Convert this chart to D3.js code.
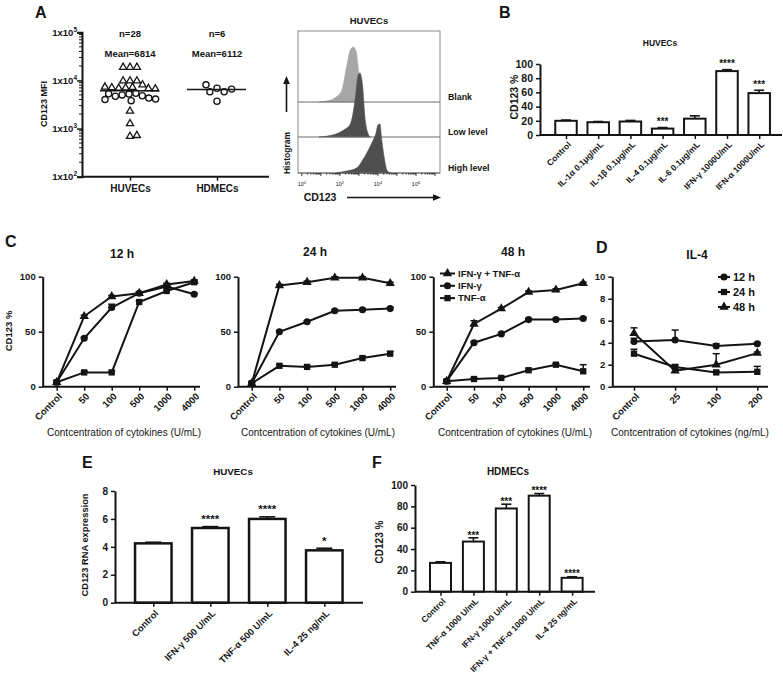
<!DOCTYPE html>
<html><head><meta charset="utf-8">
<script src="https://cdn.jsdelivr.net/npm/d3@7"></script>
<style>body{margin:0;background:#fff}svg{display:block}</style>
</head><body>
<svg id="c" width="783" height="683"></svg>
<script>
// ================= DATA =================
// Panel A scatter
const aGroups = ["HUVECs", "HDMECs"];
const aTicks = [100, 1000, 10000, 100000];
const aTickExp = ["2", "3", "4", "5"];
const huvecTri = [18800, 18800, 18800, 9800, 9800, 9800, 8100, 7200, 7000, 6900, 7100, 6800, 7300, 6700, 2300, 1270, 690, 720];
const huvecCirc = [5400, 5200, 5000, 4800, 4700, 5300, 4300, 4000, 3800, 4100];
const hdmecCirc = [6900, 5800, 5800, 6600, 8100, 3700];
const aCenterLine = [6100, 6500];
const aN = ["n=28", "n=6"];
const aMean = ["Mean=6814", "Mean=6112"];

// Panel A histogram (log10 intensity, relative counts)
const histRows = ["Blank", "Low level", "High level"];
const histTickExp = [0, 2, 4, 6];
const blankLog = [0.9, 1.5, 1.8, 2.1, 2.35, 2.55, 2.7, 2.85, 2.96, 3.09, 3.2];
const blankCount = [0, 20, 50, 115, 350, 520, 550, 510, 350, 80, 0];
const lowLog = [0.9, 1.8, 2.2, 2.55, 2.8, 2.96, 3.05, 3.2, 3.3, 3.45, 3.6];
const lowCount = [0, 30, 70, 130, 370, 620, 640, 500, 230, 50, 0];
const highLog = [1.8, 2.35, 2.88, 3.2, 3.5, 3.75, 3.9, 4.0, 4.1, 4.2, 4.35, 4.5, 4.7];
const highCount = [0, 20, 50, 130, 230, 330, 400, 480, 490, 330, 130, 20, 0];

// Panel B
const bCats = ["Control", "IL-1α 0.1μg/mL", "IL-1β 0.1μg/mL", "IL-4 0.1μg/mL", "IL-6 0.1μg/mL", "IFN-γ 1000U/mL", "IFN-α 1000U/mL"];
const bVals = [20, 18, 19, 9, 23, 90, 59];
const bErr = [1, 1, 1.5, 1.5, 4, 2, 4];
const bSig = ["", "", "", "***", "", "****", "***"];
const bTicks = [0, 20, 40, 60, 80, 100];

// Panel C
const cCats = ["Control", "50", "100", "500", "1000", "4000"];
const cSeriesNames = ["IFN-γ + TNF-α", "IFN-γ", "TNF-α"];
const cTicks = [0, 50, 100];
const c12Combo = [4, 64, 82, 85, 93, 96];
const c12Ifn = [4, 44, 72, 85, 91, 84];
const c12Tnf = [4, 13, 13, 77, 87, 95];
const c12ComboErr = [1, 1, 1, 1, 1, 1];
const c12IfnErr = [1, 1, 3, 1, 1, 1];
const c12TnfErr = [1, 1, 1, 1, 1, 1];
const c24Combo = [3, 92, 95, 99, 99, 94];
const c24Ifn = [3, 50, 59, 69, 70, 71];
const c24Tnf = [3, 19, 18, 20, 26, 30];
const c24ComboErr = [1, 1, 1, 1, 1, 1];
const c24IfnErr = [1, 1, 1, 1, 1, 1];
const c24TnfErr = [1, 1, 1, 1, 1, 2];
const c48Combo = [5, 57, 71, 86, 88, 94];
const c48Ifn = [5, 40, 48, 61, 61, 62];
const c48Tnf = [5, 7, 8, 15, 20, 14];
const c48ComboErr = [1, 3, 1, 1, 1, 1];
const c48IfnErr = [1, 1, 1, 1, 1, 1];
const c48TnfErr = [1, 1, 1, 1, 1, 6];

// Panel D
const dCats = ["Control", "25", "100", "200"];
const dSeriesNames = ["12 h", "24 h", "48 h"];
const dTicks = [0, 2, 4, 6, 8, 10];
const d12 = [4.1, 4.25, 3.7, 3.9];
const d12Err = [0.3, 0.9, 0.2, 0.1];
const d24 = [3.0, 1.8, 1.3, 1.35];
const d24Err = [0.4, 0.2, 0.1, 0.5];
const d48 = [4.85, 1.45, 2.0, 3.05];
const d48Err = [0.5, 0.15, 1.0, 0.1];

// Panel E
const eCats = ["Control", "IFN-γ 500 U/mL", "TNF-α 500 U/mL", "IL-4 25 ng/mL"];
const eVals = [4.25, 5.35, 6.0, 3.75];
const eErr = [0.08, 0.1, 0.15, 0.15];
const eSig = ["", "****", "****", "*"];
const eTicks = [0, 2, 4, 6, 8];

// Panel F
const fCats = ["Control", "TNF-α 1000 U/mL", "IFN-γ 1000 U/mL", "IFN-γ + TNF-α 1000 U/mL", "IL-4 25 ng/mL"];
const fVals = [27, 47, 78, 90, 13];
const fErr = [1, 3.5, 4, 2, 1];
const fSig = ["", "***", "***", "****", "****"];
const fTicks = [0, 20, 40, 60, 80, 100];

// ================= DRAWING =================
const FONT = '"Liberation Sans", Arial, Helvetica, sans-serif';
const INK = "#141414";
const svg = d3.select("#c").attr("font-family", FONT);
svg.append("rect").attr("width", 783).attr("height", 683).attr("fill", "#fff");

function label(x, y, s, size, o = {}) {
  const t = svg.append("text").attr("x", x).attr("y", y).attr("font-size", size)
    .attr("font-weight", o.w || "bold").attr("text-anchor", o.a || "middle")
    .attr("fill", o.fill || INK).text(s);
  if (o.r) t.attr("transform", `rotate(${o.r},${x},${y})`);
  return t;
}
function styleAxis(g, font, domainW = 2, weight = "bold") {
  g.attr("font-family", FONT);
  g.select(".domain").attr("stroke", INK).attr("stroke-width", domainW);
  g.selectAll(".tick line").attr("stroke", INK).attr("stroke-width", 1.5);
  g.selectAll(".tick text").attr("font-size", font).attr("font-weight", weight).attr("fill", INK);
}
function rotateLabels(g, dx, dy) {
  g.selectAll(".tick text").attr("x", 0).attr("y", 0).attr("dy", "0.35em")
    .attr("text-anchor", "end").attr("transform", `translate(${dx},${dy}) rotate(-45)`);
}

// ---------- Panel letters ----------
label(35, 18, "A", 16, { a: "start" });
label(499, 18, "B", 16, { a: "start" });
label(5, 247, "C", 16, { a: "start" });
label(596, 253, "D", 16, { a: "start" });
label(82, 468, "E", 16, { a: "start" });
label(372, 468, "F", 16, { a: "start" });

// ---------- Panel A scatter ----------
(function () {
  const yA = d3.scaleLog().domain([100, 100000]).range([176.7, 32.3]);
  const xA = d3.scalePoint().domain(aGroups).range([130, 217]);
  const gy = svg.append("g").attr("transform", "translate(82,0)")
    .call(d3.axisLeft(yA).tickValues(aTicks).tickSize(5).tickFormat(() => ""));
  styleAxis(gy, 9);
  const minor = [];
  for (let e = 2; e < 5; e++) for (let m = 2; m < 10; m++) minor.push(m * Math.pow(10, e));
  gy.selectAll(".mn").data(minor).enter().append("line")
    .attr("x1", 0).attr("x2", -3).attr("y1", d => yA(d)).attr("y2", d => yA(d))
    .attr("stroke", INK).attr("stroke-width", 1);
  aTicks.forEach((t, i) => {
    const tx = svg.append("text").attr("x", 77).attr("y", yA(t) + 3.5).attr("text-anchor", "end")
      .attr("font-size", 9.5).attr("font-weight", "bold").attr("fill", INK);
    tx.append("tspan").text("1x10");
    tx.append("tspan").attr("dy", -4).attr("font-size", 6.5).text(aTickExp[i]);
  });
  const gx = svg.append("g").attr("transform", "translate(0,176.7)")
    .call(d3.axisBottom(xA).tickSize(4).tickPadding(4).tickSizeOuter(0));
  gx.select(".domain").attr("d", "M82,0H269");
  styleAxis(gx, 10);
  label(47, 104, "CD123 MFI", 9, { r: -90 });
  aGroups.forEach((g, i) => {
    label(xA(g), 37, aN[i], 9.5);
    label(xA(g), 57, aMean[i], 9.5);
  });

  function dodge(items, d) {
    const placed = [];
    items.forEach(it => {
      const cands = [0];
      placed.forEach(p => {
        const dy = it.y - p.y;
        if (Math.abs(dy) < d) {
          const dx = Math.sqrt(d * d - dy * dy);
          cands.push(p.dx + dx, p.dx - dx);
        }
      });
      cands.sort((a, b) => Math.abs(a) - Math.abs(b) || b - a);
      for (const c of cands) {
        if (placed.every(p => (p.dx - c) ** 2 + (p.y - it.y) ** 2 >= d * d - 0.01)) { it.dx = c; break; }
      }
      placed.push(it);
    });
    return placed;
  }
  const huv = dodge(
    huvecTri.map(v => ({ v, s: "t", y: yA(v), g: aGroups[0] }))
      .concat(huvecCirc.map(v => ({ v, s: "c", y: yA(v), g: aGroups[0] }))), 6.9);
  const hdm = dodge(hdmecCirc.map(v => ({ v, s: "c", y: yA(v), g: aGroups[1] })), 8);
  const all = huv.concat(hdm);
  svg.selectAll(null).data(all).enter().append("path")
    .attr("transform", d => `translate(${xA(d.g) + d.dx},${d.y})`)
    .attr("d", d => d.s === "t" ? d3.symbol(d3.symbolTriangle, 22)() : d3.symbol(d3.symbolCircle, 30)())
    .attr("fill", "#fff").attr("stroke", INK).attr("stroke-width", 1.3);
  aGroups.forEach((g, i) => {
    svg.append("line").attr("x1", xA(g) - 30).attr("x2", xA(g) + 29)
      .attr("y1", yA(aCenterLine[i])).attr("y2", yA(aCenterLine[i]))
      .attr("stroke", INK).attr("stroke-width", 1.6);
  });
})();

// ---------- Panel A histogram ----------
(function () {
  const L = 298, R = 440, T = 31, B = 173;
  const xH = d3.scaleLinear().domain([-0.2, 7.26]).range([L, R]);
  const hY = d3.scaleLinear().domain([0, 640]).range([0, 64]);
  const bases = [102, 137, 173];
  svg.append("rect").attr("x", L).attr("y", T).attr("width", R - L).attr("height", B - T)
    .attr("fill", "#fff").attr("stroke", "#8a8a8a").attr("stroke-width", 1);
  const sets = [[blankLog, blankCount, "#a6a6a6"], [lowLog, lowCount, "#4f4f4f"], [highLog, highCount, "#4f4f4f"]];
  sets.forEach((s, i) => {
    const pts = s[0].map((e, j) => [e, s[1][j]]);
    const base = bases[i];
    svg.append("path").datum(pts)
      .attr("d", d3.area().x(d => xH(d[0])).y0(base).y1(d => base - hY(d[1])).curve(d3.curveMonotoneX))
      .attr("fill", s[2]).attr("stroke", s[2]).attr("stroke-width", 0.6);
    svg.append("line").attr("x1", L).attr("x2", R).attr("y1", base).attr("y2", base)
      .attr("stroke", "#6a6a6a").attr("stroke-width", 1);
    label(448, base - 2, histRows[i], 8.8, { a: "start" });
  });
  for (let e = 0; e <= 7; e++) {
    for (let m = 1; m < 10; m++) {
      const v = e + Math.log10(m);
      if (v > 7.26) continue;
      svg.append("line").attr("x1", xH(v)).attr("x2", xH(v)).attr("y1", B).attr("y2", B + (m === 1 ? 3 : 1.6))
        .attr("stroke", INK).attr("stroke-width", 0.8);
    }
  }
  histTickExp.forEach(e => {
    const t = svg.append("text").attr("x", xH(e)).attr("y", 186).attr("text-anchor", "middle")
      .attr("font-size", 5.5).attr("fill", INK);
    t.append("tspan").text("10");
    t.append("tspan").attr("dy", -2.5).attr("font-size", 4).text(e);
  });
  label(369, 24, "HUVECs", 9.5);
  label(290, 153, "Histogram", 8.5, { r: -90 });
  label(320, 201, "CD123", 10.5);
  svg.append("line").attr("x1", 286.5).attr("x2", 286.5).attr("y1", 112).attr("y2", 82).attr("stroke", INK).attr("stroke-width", 1.6);
  svg.append("path").attr("d", "M286.5,76L283.2,84L289.8,84Z").attr("fill", INK);
  svg.append("line").attr("x1", 347).attr("x2", 434).attr("y1", 197.5).attr("y2", 197.5).attr("stroke", INK).attr("stroke-width", 1.6);
  svg.append("path").attr("d", "M441,197.5L433,194.2L433,200.8Z").attr("fill", INK);
})();

// ---------- Bar chart helper ----------
function barChart(o) {
  const x = d3.scalePoint().domain(o.cats).range([o.first, o.first + o.step * (o.cats.length - 1)]);
  const y = d3.scaleLinear().domain([0, o.yMax]).range([o.y0, o.y1]);
  svg.selectAll(null).data(o.cats).enter().append("rect")
    .attr("x", c => x(c) - o.barW / 2).attr("y", (c, i) => y(o.vals[i]))
    .attr("width", o.barW).attr("height", (c, i) => o.y0 - y(o.vals[i]))
    .attr("fill", "#fff").attr("stroke", INK).attr("stroke-width", o.sw);
  o.cats.forEach((c, i) => {
    const top = y(o.vals[i] + o.errs[i]);
    svg.append("line").attr("x1", x(c)).attr("x2", x(c)).attr("y1", y(o.vals[i])).attr("y2", top)
      .attr("stroke", INK).attr("stroke-width", 1.6);
    svg.append("line").attr("x1", x(c) - o.cap).attr("x2", x(c) + o.cap).attr("y1", top).attr("y2", top)
      .attr("stroke", INK).attr("stroke-width", 1.6);
    if (o.sig[i]) label(x(c), top - o.sigGap + 0.57 * o.sigFont, o.sig[i], o.sigFont);
  });
  const gy = svg.append("g").attr("transform", `translate(${o.axisX},0)`)
    .call(d3.axisLeft(y).tickValues(o.ticks).tickSize(4).tickPadding(3).tickSizeOuter(0));
  styleAxis(gy, o.yFont);
  const gx = svg.append("g").attr("transform", `translate(0,${o.y0})`)
    .call(d3.axisBottom(x).tickSize(4).tickSizeOuter(0));
  gx.select(".domain").attr("d", `M${o.axisX},0H${o.xEnd}`);
  styleAxis(gx, o.xFont);
  rotateLabels(gx, o.ldx, o.ldy);
}

// Panel B
barChart({ cats: bCats, vals: bVals, errs: bErr, sig: bSig, ticks: bTicks, yMax: 100,
  axisX: 540, xEnd: 782, y0: 135, y1: 64, first: 566, step: 32.2, barW: 21.5, sw: 2, cap: 5,
  sigGap: 8, sigFont: 10, yFont: 10.5, xFont: 8.5, ldx: 3, ldy: 8 });
label(660, 46, "HUVECs", 8.5);
label(518, 97, "CD123 %", 10.5, { r: -90 });

// Panel E
barChart({ cats: eCats, vals: eVals, errs: eErr, sig: eSig, ticks: eTicks, yMax: 8,
  axisX: 115, xEnd: 363, y0: 602.7, y1: 491, first: 153.3, step: 57, barW: 36.5, sw: 2.5, cap: 8,
  sigGap: 10, sigFont: 11.5, yFont: 10, xFont: 9.3, ldx: 3, ldy: 9 });
label(233, 475, "HUVECs", 9.8);
label(88, 545, "CD123 RNA expression", 9.3, { r: -90 });

// Panel F
barChart({ cats: fCats, vals: fVals, errs: fErr, sig: fSig, ticks: fTicks, yMax: 100,
  axisX: 415, xEnd: 595, y0: 591.7, y1: 485, first: 440.5, step: 32.9, barW: 21, sw: 2, cap: 5,
  sigGap: 5, sigFont: 10, yFont: 10, xFont: 8.5, ldx: 3, ldy: 8 });
label(508, 475, "HDMECs", 10);
label(383, 542, "CD123 %", 10, { r: -90 });

// ---------- Line chart helper ----------
const SHAPES = { tri: [d3.symbolTriangle, 38], circ: [d3.symbolCircle, 40], sq: [d3.symbolSquare, 40] };
function lineChart(o) {
  const x = d3.scalePoint().domain(o.cats).range([o.first, o.first + o.step * (o.cats.length - 1)]);
  const y = d3.scaleLinear().domain([0, o.yMax]).range([o.y0, o.y1]);
  const gy = svg.append("g").attr("transform", `translate(${o.axisX},0)`)
    .call(d3.axisLeft(y).tickValues(o.ticks).tickSize(4).tickPadding(3).tickSizeOuter(0));
  styleAxis(gy, o.yFont);
  const gx = svg.append("g").attr("transform", `translate(0,${o.y0})`)
    .call(d3.axisBottom(x).tickSize(4).tickSizeOuter(0));
  gx.select(".domain").attr("d", `M${o.axisX},0H${o.xEnd}`);
  styleAxis(gx, o.xFont);
  rotateLabels(gx, 3, 8);
  o.series.forEach(s => {
    const pts = o.cats.map((c, i) => ({ c, v: s.vals[i], e: s.errs[i] }));
    svg.append("path").datum(pts).attr("fill", "none").attr("stroke", INK).attr("stroke-width", 2)
      .attr("d", d3.line().x(d => x(d.c)).y(d => y(d.v)));
    pts.forEach(d => {
      const top = y(d.v + d.e);
      svg.append("line").attr("x1", x(d.c)).attr("x2", x(d.c)).attr("y1", y(d.v)).attr("y2", top)
        .attr("stroke", INK).attr("stroke-width", 1.5);
      svg.append("line").attr("x1", x(d.c) - 3.5).attr("x2", x(d.c) + 3.5).attr("y1", top).attr("y2", top)
        .attr("stroke", INK).attr("stroke-width", 1.5);
    });
    const sh = SHAPES[s.shape];
    svg.selectAll(null).data(pts).enter().append("path")
      .attr("transform", d => `translate(${x(d.c)},${y(d.v)})`)
      .attr("d", d3.symbol(sh[0], sh[1])()).attr("fill", INK);
  });
  if (o.legend) {
    o.series.forEach((s, i) => {
      const ly = o.legend.y + i * o.legend.dy;
      svg.append("line").attr("x1", o.legend.x).attr("x2", o.legend.x + o.legend.w)
        .attr("y1", ly).attr("y2", ly).attr("stroke", INK).attr("stroke-width", 2);
      const sh = SHAPES[s.shape];
      svg.append("path").attr("transform", `translate(${o.legend.x + o.legend.w / 2},${ly})`)
        .attr("d", d3.symbol(sh[0], sh[1])()).attr("fill", INK);
      label(o.legend.x + o.legend.w + 3, ly + 0.35 * o.legend.font, s.name, o.legend.font, { a: "start" });
    });
  }
  label(o.titleX, o.titleY, o.title, 12);
  label(o.xlabX, 436, o.xlab, 10, { w: "normal" });
}

const cX = "Contcentration of cytokines (U/mL)";
function cSeries(combo, comboErr, ifn, ifnErr, tnf, tnfErr) {
  return [
    { name: cSeriesNames[0], vals: combo, errs: comboErr, shape: "tri" },
    { name: cSeriesNames[1], vals: ifn, errs: ifnErr, shape: "circ" },
    { name: cSeriesNames[2], vals: tnf, errs: tnfErr, shape: "sq" }];
}
lineChart({ cats: cCats, ticks: cTicks, yMax: 100, axisX: 42.7, xEnd: 200, y0: 386.7, y1: 276.7,
  first: 56.7, step: 27.5, yFont: 9.5, xFont: 9.5, title: "12 h", titleX: 122, titleY: 258,
  xlab: cX, xlabX: 124, series: cSeries(c12Combo, c12ComboErr, c12Ifn, c12IfnErr, c12Tnf, c12TnfErr) });
lineChart({ cats: cCats, ticks: cTicks, yMax: 100, axisX: 238, xEnd: 396, y0: 386.7, y1: 276.7,
  first: 251.7, step: 27.7, yFont: 9.5, xFont: 9.5, title: "24 h", titleX: 315, titleY: 256,
  xlab: cX, xlabX: 318, series: cSeries(c24Combo, c24ComboErr, c24Ifn, c24IfnErr, c24Tnf, c24TnfErr) });
lineChart({ cats: cCats, ticks: cTicks, yMax: 100, axisX: 433.3, xEnd: 590, y0: 386.7, y1: 276.7,
  first: 446.7, step: 27.3, yFont: 9.5, xFont: 9.5, title: "48 h", titleX: 513, titleY: 256,
  xlab: cX, xlabX: 515, series: cSeries(c48Combo, c48ComboErr, c48Ifn, c48IfnErr, c48Tnf, c48TnfErr),
  legend: { x: 440, y: 273.5, dy: 12.3, w: 15, font: 9.5 } });
label(12, 331, "CD123 %", 9.5, { r: -90 });

// Panel D
lineChart({ cats: dCats, ticks: dTicks, yMax: 10, axisX: 612.3, xEnd: 768, y0: 386.7, y1: 276.7,
  first: 634, step: 41.1, yFont: 9.5, xFont: 9.5, title: "IL-4", titleX: 697, titleY: 259,
  xlab: "Contcentration of cytokines (ng/mL)", xlabX: 690,
  series: [
    { name: dSeriesNames[0], vals: d12, errs: d12Err, shape: "circ" },
    { name: dSeriesNames[1], vals: d24, errs: d24Err, shape: "sq" },
    { name: dSeriesNames[2], vals: d48, errs: d48Err, shape: "tri" }],
  legend: { x: 718, y: 277, dy: 15, w: 12, font: 11 } });
</script>
</body></html>
